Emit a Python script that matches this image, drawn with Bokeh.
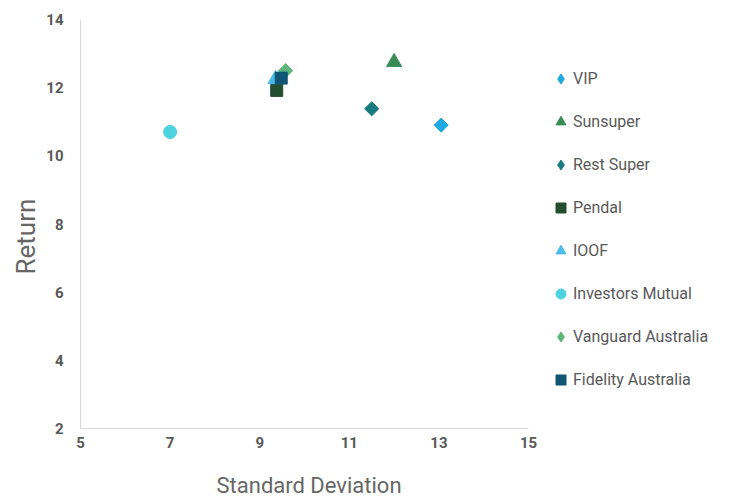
from bokeh.plotting import figure
from bokeh.models import Range1d, FixedTicker, Legend, LegendItem, Title
from bokeh.embed import file_html
from bokeh.resources import INLINE
import math

names = ["VIP", "Sunsuper", "Rest Super", "Pendal", "IOOF", "Investors Mutual",
         "Vanguard Australia", "Fidelity Australia"]
std_dev = [13.05, 12.0, 11.5, 9.38, 9.35, 7.0, 9.58, 9.48]
returns = [10.9, 12.75, 11.38, 11.92, 12.25, 10.7, 12.5, 12.28]
markers = ["diamond", "triangle", "diamond", "square", "triangle", "circle", "diamond", "square"]
sizes = [10, 15, 10, 12, 15, 13, 10, 12]
colors = ["#1FA9E1", "#3A8C56", "#187B7F", "#234F2E", "#4CBBE9", "#4DD2E0", "#5CB57B", "#0F5574"]

x_ticks = [5, 7, 9, 11, 13, 15]
y_ticks = [2, 4, 6, 8, 10, 12, 14]
x_min, x_max = 5, 15
y_min, y_max = 2, 14

FRAME_LEFT = 80
AXIS_RIGHT_PX = 528
W = 735
# frame extends to the page edge so the legend can live inside it; axis is bounded to 5..15
x_end = x_min + (W - FRAME_LEFT) * (x_max - x_min) / (AXIS_RIGHT_PX - FRAME_LEFT)

p = figure(width=W, height=496, output_backend="svg", toolbar_location=None,
           x_range=Range1d(x_min, x_end), y_range=Range1d(y_min, y_max),
           min_border_left=FRAME_LEFT, min_border_right=0, min_border_top=19, min_border_bottom=0)
p.outline_line_color = None
p.xgrid.visible = False
p.ygrid.visible = False

items = []
for i in range(len(names)):
    if markers[i] == "diamond":
        leg = p.scatter([std_dev[i]], [returns[i]], marker="diamond", size=sizes[i] * 0.9,
                        fill_color=colors[i], line_color=colors[i])
        p.scatter([std_dev[i]], [returns[i]], marker="square", size=sizes[i],
                  angle=math.pi / 4, fill_color=colors[i], line_color=colors[i])
    else:
        leg = p.scatter([std_dev[i]], [returns[i]], marker=markers[i], size=sizes[i],
                        fill_color=colors[i], line_color=colors[i])
    items.append(LegendItem(label=names[i], renderers=[leg]))

for ax in (p.xaxis[0], p.yaxis[0]):
    ax.axis_line_color = "#D9D9D9"
    ax.axis_line_width = 1
    ax.major_tick_line_color = None
    ax.minor_tick_line_color = None
    ax.major_tick_out = 0
    ax.major_tick_in = 0
    ax.major_label_text_font = "Roboto"
    ax.major_label_text_font_style = "bold"
    ax.major_label_text_font_size = "15px"
    ax.major_label_text_color = "#595959"

p.xaxis[0].bounds = (x_min, x_max)
p.xaxis[0].ticker = FixedTicker(ticks=x_ticks)
p.yaxis[0].ticker = FixedTicker(ticks=y_ticks)
p.xaxis[0].major_label_standoff = 8
p.yaxis[0].major_label_standoff = 17

# spacer between tick labels and the x-axis title
spacer = Title(text=" ", text_font_size="12px", standoff=5)
p.add_layout(spacer, "below")
x_title = Title(text="Standard Deviation", align="left", offset=136,
                text_font="Roboto", text_font_size="22px", text_font_style="normal",
                text_color="#666666", standoff=-2)
p.add_layout(x_title, "below")
y_title = Title(text="Return", align="left", offset=154,
                text_font="Roboto", text_font_size="26px", text_font_style="normal",
                text_color="#666666", standoff=6)
p.add_layout(y_title, "left")

legend = Legend(items=items, location=(468, 36))
legend.glyph_width = 25
legend.glyph_height = 25
legend.label_height = 25
legend.spacing = 18
legend.padding = 0
legend.margin = 0
legend.label_standoff = -3
legend.border_line_color = None
legend.background_fill_alpha = 0
legend.label_text_font = "Roboto"
legend.label_text_font_size = "16px"
legend.label_text_color = "#595959"
p.add_layout(legend)

open("out.html", "w").write(file_html(p, INLINE))
